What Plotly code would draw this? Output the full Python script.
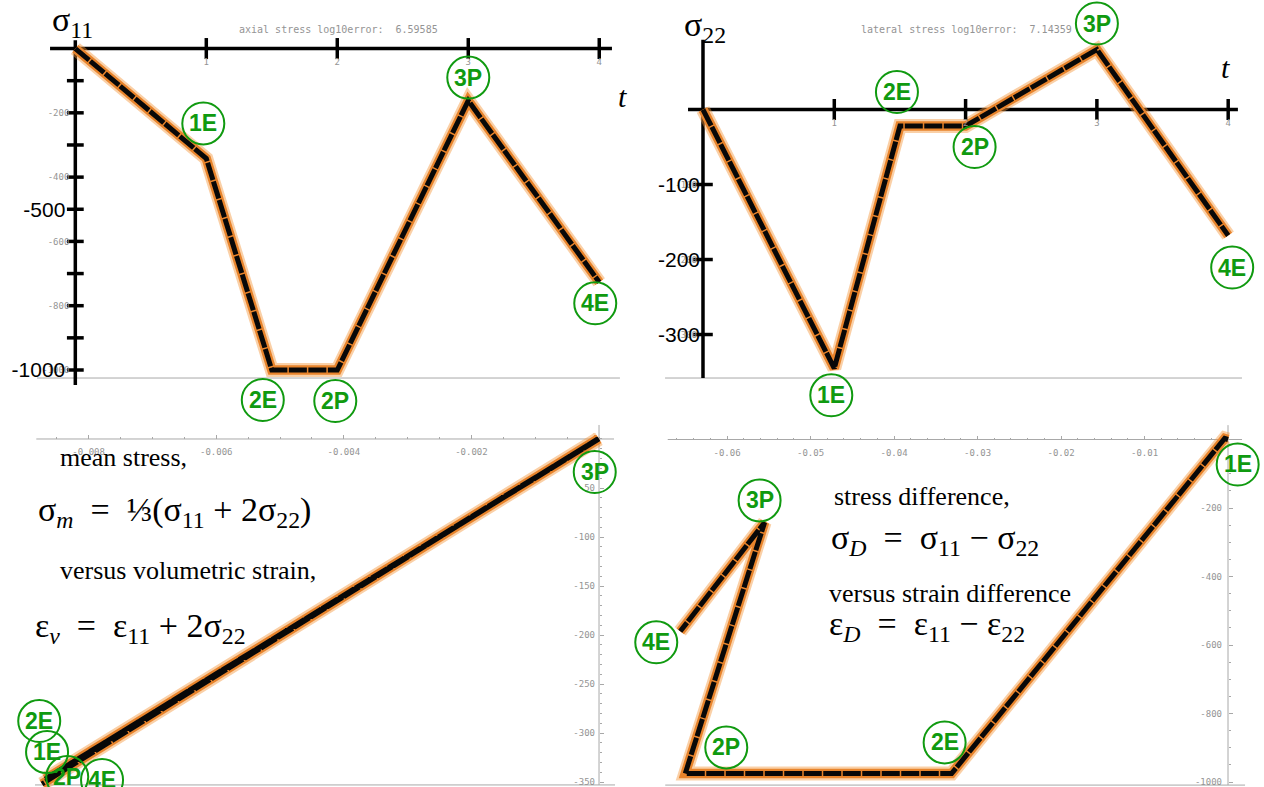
import plotly.graph_objects as go

W, H = 1264, 787

# ---- load-path data at the step instants --------------------------------
t_steps = [0.0, 1.0, 1.5, 2.0, 3.0, 4.0]
step_names = ["", "1E", "2E", "2P", "3P", "4E"]
sigma11 = [0, -342, -1000, -1000, -162, -727]
sigma22 = [0, -345, -22, -22, 80, -168]
# mean stress versus volumetric strain
eps_v = [0, -0.00862, -0.00868, -0.00868, -0.00002, -0.00873]
sigma_m = [0, -344, -347, -347, 0, -352]
# stress difference versus strain difference
eps_d = [0, -0.0004, -0.0331, -0.0650, -0.0555, -0.0656]
sigma_d = [0, 3, -975, -975, -242, -560]

# ---- ticks ----------------------------------------------------------------
t_ticks = [1, 2, 3, 4]
t_labels = ["1", "2", "3", "4"]
s11_ticks = [-200, -400, -600, -800, -1000]
s11_big_ticks = [-500, -1000]
s11_marks = [-100, -200, -300, -400, -500, -600, -700, -800, -900, -1000]
s22_ticks = [-100, -200, -300]
s22_big_ticks = [-100, -200, -300]
ev_ticks = [-0.008, -0.006, -0.004, -0.002]
ev_labels = ["-0.008", "-0.006", "-0.004", "-0.002"]
sm_ticks = [-50, -100, -150, -200, -250, -300, -350]
ed_ticks = [-0.06, -0.05, -0.04, -0.03, -0.02, -0.01]
ed_labels = ["-0.06", "-0.05", "-0.04", "-0.03", "-0.02", "-0.01"]
sd_ticks = [-200, -400, -600, -800, -1000]

GREEN = "#109a10"
GRAY_TXT = "#949494"
AXIS_GRAY = "#a8a8a8"
MONO = "DejaVu Sans Mono"
SERIF = "Liberation Serif"
SANS = "Liberation Sans"

# panel boxes in pixels (left, right, top, bottom) and data ranges
panels = {
    "tl": dict(xa="x", ya="y", box=(0, 632, 0, 424), xr=[-0.575, 4.25], yr=[-1168, 151]),
    "tr": dict(xa="x2", ya="y2", box=(632, 1264, 0, 424), xr=[-0.5407, 4.2727], yr=[-419.3, 146.0]),
    "bl": dict(xa="x3", ya="y3", box=(0, 632, 424, 787), xr=[-0.009389, 0.000517], yr=[-355.1, 15.3]),
    "br": dict(xa="x4", ya="y4", box=(632, 1264, 424, 787), xr=[-0.07138, 0.00431], yr=[-1014.6, 45.3]),
}


def domains(p):
    l, r, t, b = p["box"]
    return [l / W, r / W], [1 - b / H, 1 - t / H]


def zero_pos(dom, rng):
    return dom[0] + (0 - rng[0]) / (rng[1] - rng[0]) * (dom[1] - dom[0])


fig = go.Figure()
layout_axes = {}
shapes = []
annotations = []


def add_curve(p, xs, ys):
    common = dict(xaxis=p["xa"], yaxis=p["ya"], mode="lines", hoverinfo="skip", showlegend=False)
    fig.add_trace(go.Scatter(x=xs, y=ys, line=dict(color="rgba(244,150,60,0.45)", width=14), **common))
    fig.add_trace(go.Scatter(x=xs, y=ys, line=dict(color="#e8842c", width=9.5), **common))
    fig.add_trace(go.Scatter(x=xs, y=ys, line=dict(color="#080808", width=5, dash="18px,1.5px"), **common))


def add_labels(p, xs, ys, offsets, r=21):
    for name, x, y in zip(step_names, xs, ys):
        if not name:
            continue
        dx, dy = offsets[name]
        shapes.append(dict(type="circle", xref=p["xa"], yref=p["ya"],
                           xsizemode="pixel", ysizemode="pixel", xanchor=x, yanchor=y,
                           x0=dx - r, x1=dx + r, y0=-dy - r, y1=-dy + r,
                           line=dict(color=GREEN, width=2), layer="above"))
        annotations.append(dict(x=x, y=y, xref=p["xa"], yref=p["ya"], xshift=dx, yshift=-dy,
                                text="<b>%s</b>" % name, showarrow=False,
                                font=dict(family=SANS, size=23, color=GREEN)))


def line_shape(p, x0, y0, x1, y1, color, width):
    shapes.append(dict(type="line", xref=p["xa"], yref=p["ya"], x0=x0, y0=y0, x1=x1, y1=y1,
                       line=dict(color=color, width=width), layer="below"))


def base_axes(key, p):
    xd, yd = domains(p)
    n = {"tl": "", "tr": "2", "bl": "3", "br": "4"}[key]
    common = dict(showgrid=False, zeroline=False, showline=False, automargin=False,
                  fixedrange=True, ticklabeloverflow="allow")
    xaxis = dict(domain=xd, range=p["xr"], anchor="free", position=zero_pos(yd, p["yr"]), **common)
    yaxis = dict(domain=yd, range=p["yr"], anchor="free", position=zero_pos(xd, p["xr"]), **common)
    layout_axes["xaxis" + n] = xaxis
    layout_axes["yaxis" + n] = yaxis
    return xaxis, yaxis


small_font = dict(family=MONO, size=9, color=GRAY_TXT)
big_font = dict(family=SANS, size=21, color="black")
overlay_common = dict(showgrid=False, zeroline=False, showline=False, automargin=False,
                      fixedrange=True, ticks="", tickfont=big_font, tickmode="array")

# ---- axial stress vs time -------------------------------------------------
p = panels["tl"]
xa, ya = base_axes("tl", p)
xa.update(tickmode="array", tickvals=t_ticks, ticktext=t_labels, ticks="", tickfont=small_font,
          ticklabelstandoff=6)
ya.update(tickmode="array", tickvals=s11_ticks, ticktext=[str(v) for v in s11_ticks], ticks="",
          tickfont=small_font, ticklabelstandoff=6)
layout_axes["yaxis5"] = dict(overlaying="y", range=p["yr"], anchor="free", position=ya["position"],
                             tickvals=s11_big_ticks, ticktext=[str(v) for v in s11_big_ticks],
                             ticklabelstandoff=10, **overlay_common)
line_shape(p, -0.292, -1025, 4.158, -1025, AXIS_GRAY, 1)
add_curve(p, t_steps, sigma11)
line_shape(p, -0.193, 0, 4.097, 0, "black", 3.5)
line_shape(p, 0, 26, 0, -1047, "black", 3.5)
fig.add_trace(go.Scatter(x=t_ticks, y=[0] * len(t_ticks), xaxis="x", yaxis="y5", mode="markers",
                         marker=dict(symbol="line-ns", size=15, line=dict(color="black", width=3.5)),
                         hoverinfo="skip", showlegend=False))
fig.add_trace(go.Scatter(x=[0] * len(s11_marks), y=s11_marks, xaxis="x", yaxis="y5", mode="markers",
                         marker=dict(symbol="line-ew", size=12, line=dict(color="black", width=3.5)),
                         hoverinfo="skip", showlegend=False))
add_labels(p, t_steps, sigma11,
           {"1E": (-3, -35), "2E": (-9, 30), "2P": (-2, 31), "3P": (0, -23), "4E": (-4, 21)})

# ---- lateral stress vs time -----------------------------------------------
p = panels["tr"]
xa, ya = base_axes("tr", p)
xa.update(tickmode="array", tickvals=t_ticks, ticktext=t_labels, ticks="", tickfont=small_font,
          ticklabelstandoff=6)
ya.update(tickmode="array", tickvals=s22_ticks, ticktext=[str(v) for v in s22_ticks], ticks="",
          tickfont=small_font, ticklabelstandoff=6)
layout_axes["yaxis6"] = dict(overlaying="y2", range=p["yr"], anchor="free", position=ya["position"],
                             tickvals=s22_big_ticks, ticktext=[str(v) for v in s22_big_ticks],
                             ticklabelstandoff=3, **overlay_common)
line_shape(p, -0.289, -358, 4.105, -358, AXIS_GRAY, 1)
add_curve(p, t_steps, sigma22)
line_shape(p, -0.114, 0, 4.074, 0, "black", 3.5)
line_shape(p, 0, 93, 0, -358, "black", 3.5)
fig.add_trace(go.Scatter(x=t_ticks, y=[0] * len(t_ticks), xaxis="x2", yaxis="y6", mode="markers",
                         marker=dict(symbol="line-ns", size=15, line=dict(color="black", width=3.5)),
                         hoverinfo="skip", showlegend=False))
fig.add_trace(go.Scatter(x=[0] * len(s22_ticks), y=s22_ticks, xaxis="x2", yaxis="y6", mode="markers",
                         marker=dict(symbol="line-ew", size=14, line=dict(color="black", width=3.5)),
                         hoverinfo="skip", showlegend=False))
add_labels(p, t_steps, sigma22,
           {"1E": (-3, 27), "2E": (-3, -34), "2P": (9, 21), "3P": (0, -26), "4E": (4, 32)})

# ---- mean stress vs volumetric strain --------------------------------------
p = panels["bl"]
xa, ya = base_axes("bl", p)
xa.update(tickmode="array", tickvals=ev_ticks, ticktext=ev_labels, ticks="inside", ticklen=4,
          tickwidth=1, tickcolor=AXIS_GRAY, tickfont=small_font, ticklabelstandoff=6,
          minor=dict(tickvals=[-0.0085 + 0.0005 * i for i in range(18)], ticks="inside", ticklen=2,
                     tickcolor=AXIS_GRAY, tickwidth=1))
ya.update(tickmode="array", tickvals=sm_ticks, ticktext=[str(v) for v in sm_ticks], ticks="inside",
          ticklen=4, tickwidth=1, tickcolor=AXIS_GRAY, tickfont=small_font, ticklabelstandoff=4,
          minor=dict(tickvals=[-350 + 10 * i for i in range(36)], ticks="inside", ticklen=2,
                     tickcolor=AXIS_GRAY, tickwidth=1))
line_shape(p, -0.00882, 0, 0.000235, 0, AXIS_GRAY, 1)
line_shape(p, 0, 14.3, 0, -353, AXIS_GRAY, 1)
line_shape(p, -0.00884, -353, 0.000251, -353, AXIS_GRAY, 1)
add_curve(p, eps_v, sigma_m)
add_labels(p, eps_v, sigma_m,
           {"1E": (-2, -24), "2E": (-6, -58), "2P": (22, -2), "3P": (-3, 33), "4E": (60, -4)})

# ---- stress difference vs strain difference --------------------------------
p = panels["br"]
xa, ya = base_axes("br", p)
xa.update(tickmode="array", tickvals=ed_ticks, ticktext=ed_labels, ticks="inside", ticklen=4,
          tickwidth=1, tickcolor=AXIS_GRAY, tickfont=small_font, ticklabelstandoff=6,
          minor=dict(tickvals=[-0.066 + 0.002 * i for i in range(33)], ticks="inside", ticklen=2,
                     tickcolor=AXIS_GRAY, tickwidth=1))
ya.update(tickmode="array", tickvals=sd_ticks, ticktext=[str(v) for v in sd_ticks], ticks="inside",
          ticklen=4, tickwidth=1, tickcolor=AXIS_GRAY, tickfont=small_font, ticklabelstandoff=6,
          minor=dict(tickvals=[-1000 + 50 * i for i in range(20)], ticks="inside", ticklen=2,
                     tickcolor=AXIS_GRAY, tickwidth=1))
line_shape(p, -0.0671, 0, 0.00168, 0, AXIS_GRAY, 1)
line_shape(p, 0, 42, 0, -1009, AXIS_GRAY, 1)
line_shape(p, -0.0674, -1009, 0.00204, -1009, AXIS_GRAY, 1)
add_curve(p, eps_d, sigma_d)
add_labels(p, eps_d, sigma_d,
           {"1E": (13, 26), "2E": (-7, -31), "2P": (41, -26), "3P": (-5, -22), "4E": (-24, 11)})


# ---- text --------------------------------------------------------------------
def note(px, py, text, size, family=SERIF, color="black", xanchor="left"):
    annotations.append(dict(x=px / W, y=1 - py / H, xref="paper", yref="paper", text=text,
                            showarrow=False, xanchor=xanchor, yanchor="middle",
                            font=dict(family=family, size=size, color=color)))


NB = "\u00a0"
EQ = NB * 2 + "=" + NB * 2
note(338, 29, "axial stress log10error:" + NB * 2 + "6.59585", 10, MONO, GRAY_TXT, "center")
note(966, 29, "lateral stress log10error:" + NB * 2 + "7.14359", 10, MONO, GRAY_TXT, "center")
note(50, 22, "σ<sub>11</sub>", 34)
note(682, 27, "σ<sub>22</sub>", 34)
note(622, 96, "<i>t</i>", 30, xanchor="center")
note(1225, 68, "<i>t</i>", 30, xanchor="center")

note(58, 457, "mean stress,", 26)
note(36, 512, "σ<sub><i>m</i></sub>" + EQ + "⅓(σ<sub>11</sub>" + NB + "+" + NB + "2σ<sub>22</sub>)", 34)
note(58, 570, "versus volumetric strain,", 26)
note(33, 628, "ε<sub><i>v</i></sub>" + EQ + "ε<sub>11</sub>" + NB + "+" + NB + "2σ<sub>22</sub>", 34)

note(832, 496, "stress difference,", 26)
note(829, 540, "σ<sub><i>D</i></sub>" + EQ + "σ<sub>11</sub>" + NB + "−" + NB + "σ<sub>22</sub>", 34)
note(827, 593, "versus strain difference", 26)
note(827, 626, "ε<sub><i>D</i></sub>" + EQ + "ε<sub>11</sub>" + NB + "−" + NB + "ε<sub>22</sub>", 34)

fig.update_layout(width=W, height=H, margin=dict(l=0, r=0, t=0, b=0),
                  paper_bgcolor="white", plot_bgcolor="rgba(0,0,0,0)",
                  showlegend=False, shapes=shapes, annotations=annotations, **layout_axes)

fig.write_html("out.html")
